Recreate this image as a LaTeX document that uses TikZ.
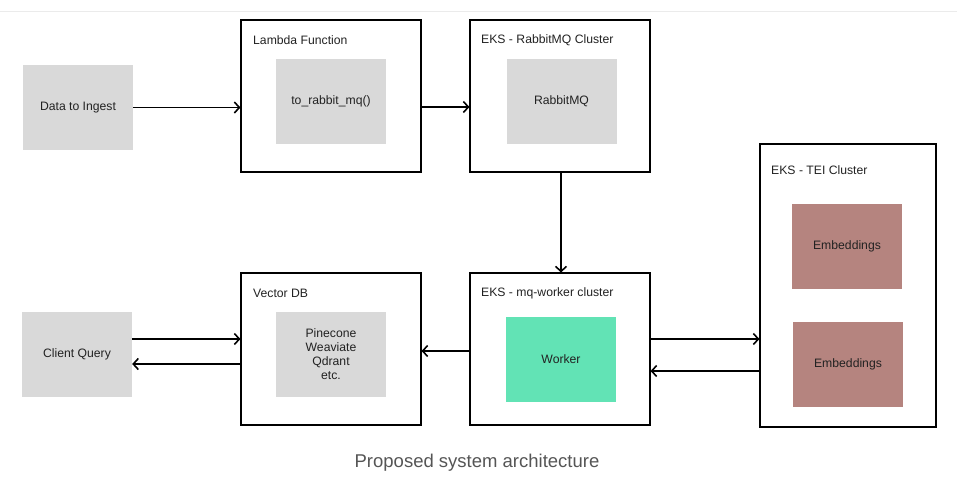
\documentclass[tikz,border=0pt]{standalone}
\usepackage{fontspec}
\setmainfont{Liberation Sans}
\usetikzlibrary{arrows.meta}
\definecolor{boxgray}{HTML}{D9D9D9}
\definecolor{embred}{HTML}{B5847F}
\definecolor{workgreen}{HTML}{62E3B5}
\definecolor{capgray}{HTML}{555555}
\definecolor{txtgray}{HTML}{222222}
\begin{document}
\begin{tikzpicture}[x=1pt,y=-1pt,font=\fontsize{12.2}{14}\selectfont,text=txtgray,
    cluster/.style={draw=black,line width=1.1pt,inner sep=0pt},
    inner/.style={fill=boxgray,inner sep=0pt,minimum width=110pt,minimum height=85pt,align=center},
    title/.style={anchor=west,inner sep=0pt},
    arr/.style={line width=1.6pt,-{Straight Barb[length=5pt,width=11pt]}}]
      \useasboundingbox (0,0) rectangle (957,482) ;
      \draw[very thin, black!8] (0,11)--(957,11) ;
      % top row
      \node[inner] (data) at (78,107.5) {Data to Ingest} ;
      \node[cluster,minimum width=180pt,minimum height=152pt] (lambda) at (331,96) {} ;
      \node[title] (lambdat) at (253,40) {Lambda Function} ;
      \node[inner] (fn) at (331,101) {to\_rabbit\_mq()} ;
      \node[cluster,minimum width=180pt,minimum height=152pt] (rmq) at (560,96) {} ;
      \node[title] (rmqt) at (481,40) {EKS - RabbitMQ Cluster} ;
      \node[inner] (rabbit) at (561.5,101) {RabbitMQ} ;
      % bottom row
      \node[inner] (client) at (77,354) {Client Query} ;
      \node[cluster,minimum width=180pt,minimum height=152pt] (vdb) at (331,349) {} ;
      \node[title] (vdbt) at (253,293) {Vector DB} ;
      \node[inner] (stores) at (331,354) {Pinecone\\Weaviate\\Qdrant\\etc.} ;
      \node[cluster,minimum width=180pt,minimum height=152pt] (mqw) at (560,349) {} ;
      \node[title] (mqwt) at (481,293) {EKS - mq-worker cluster} ;
      \node[inner,fill=workgreen] (worker) at (561,359.5) {Worker} ;
      % TEI
      \node[cluster,minimum width=176pt,minimum height=283pt] (tei) at (848,285.5) {} ;
      \node[title] (teit) at (771,170) {EKS - TEI Cluster} ;
      \node[inner,fill=embred] (emb1) at (847,246.5) {Embeddings} ;
      \node[inner,fill=embred] (emb2) at (848,364.5) {Embeddings} ;
      % connectors
      \draw[arr] (data.east) -- (data.east -| lambda.west) ;
      \draw[arr] ([yshift=-11pt]lambda.east) -- ([yshift=-11pt]lambda.east -| rmq.west) ;
      \draw[arr] ([xshift=1pt]rmq.south) -- ([xshift=1pt]mqw.north) ;
      \draw[arr] ([yshift=10pt]mqw.east) -- ([yshift=10pt]mqw.east -| tei.west) ;
      \draw[arr] ([yshift=-22pt]mqw.east -| tei.west) -- ([yshift=-22pt]mqw.east) ;
      \draw[arr] ([yshift=-2pt]mqw.west) -- ([yshift=-2pt]mqw.west -| vdb.east) ;
      \draw[arr] ([yshift=15pt]client.east) -- ([yshift=15pt]client.east -| vdb.west) ;
      \draw[arr] ([yshift=-10pt]client.east -| vdb.west) -- ([yshift=-10pt]client.east) ;
      \node[text=capgray,font=\fontsize{18.5}{22}\selectfont] (cap) at (477,463) {Proposed system architecture} ;
\end{tikzpicture}
\end{document}
